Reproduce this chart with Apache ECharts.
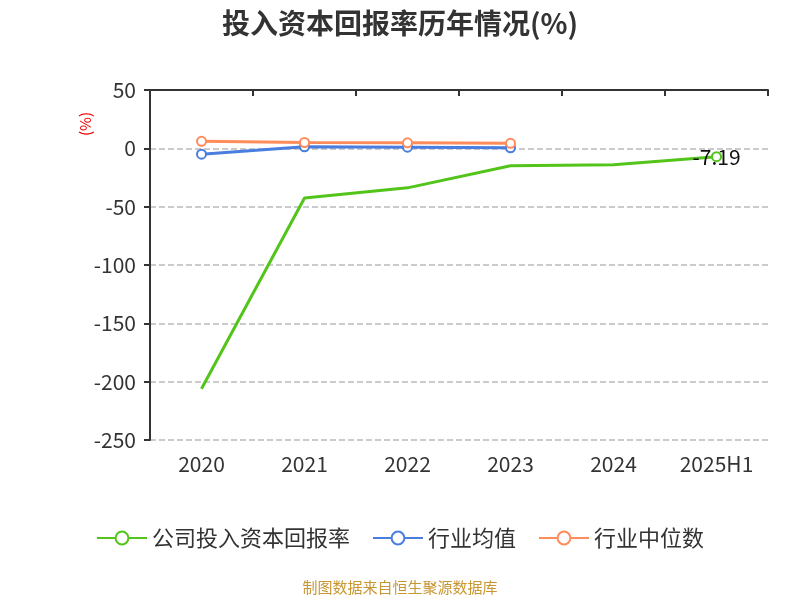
<!DOCTYPE html><html><head><meta charset="utf-8"><script src="https://cdn.jsdelivr.net/npm/echarts@6/dist/echarts.min.js"></script></head><body style="margin:0"><div id="c" style="width:800px;height:600px"></div><script>
var categories=['2020','2021','2022','2023','2024','2025H1'];
var companyRoi=[-206.03,-42.62,-33.88,-14.91,-14.03,-7.19];
var industryAvg=[-5,1.3,1,0.5,null,null];
var industryMedian=[6,5,4.7,4.3,null,null];
var yTicks=[50,0,-50,-100,-150,-200,-250];
var ch=echarts.init(document.getElementById('c'));
var ff='"Noto Sans CJK SC","Noto Sans",sans-serif';
ch.setOption({
title:{text:'投入资本回报率历年情况(%)',left:'center',top:4,textStyle:{fontSize:28,fontWeight:'bold',color:'#333',fontFamily:ff}},
graphic:[{type:'text',left:78,top:112,rotation:Math.PI/2,style:{text:'(%)',fill:'#e00',font:'15px '+ff}},
{type:'text',left:'center',top:580,style:{text:'制图数据来自恒生聚源数据库',fill:'#c89632',font:'15px '+ff}}],
grid:{left:150,right:32,top:90,bottom:160},
legend:{bottom:46,itemWidth:50,itemHeight:16,itemGap:22,textStyle:{fontSize:22,color:'#333',fontFamily:ff},data:['公司投入资本回报率','行业均值','行业中位数']},
xAxis:[{type:'category',data:categories,position:'bottom',axisLine:{show:false},axisTick:{show:false},axisLabel:{fontSize:21,color:'#333',margin:14,fontFamily:ff}},
{type:'category',data:categories,axisLine:{onZero:true,lineStyle:{color:'#333',width:2}},axisTick:{show:true,inside:true,length:6,lineStyle:{color:'#333',width:2}},axisLabel:{show:false}}],
yAxis:{type:'value',min:-250,max:50,interval:50,axisLine:{show:true,lineStyle:{color:'#333',width:2}},axisTick:{show:true,length:6,lineStyle:{color:'#333',width:2}},axisLabel:{fontSize:21,color:'#333',margin:14,fontFamily:ff},splitLine:{lineStyle:{type:'dashed',color:'#bbb',width:1.5}}},
series:[
{name:'公司投入资本回报率',type:'line',data:companyRoi.map(function(v,i){return i===companyRoi.length-1?{value:v}:{value:v,itemStyle:{opacity:0}};}),symbol:'emptyCircle',symbolSize:9,showSymbol:true,itemStyle:{color:'#52c41a'},lineStyle:{width:3,color:'#52c41a'},label:{show:true,position:'inside',fontSize:21,color:'#111',fontFamily:ff},z:3},
{name:'行业均值',type:'line',data:industryAvg,symbol:'emptyCircle',symbolSize:9,itemStyle:{color:'#4a7de0'},lineStyle:{width:3,color:'#4a7de0'}},
{name:'行业中位数',type:'line',data:industryMedian,symbol:'emptyCircle',symbolSize:9,itemStyle:{color:'#ff8c5a'},lineStyle:{width:3,color:'#ff8c5a'}}
]});
</script></body></html>
